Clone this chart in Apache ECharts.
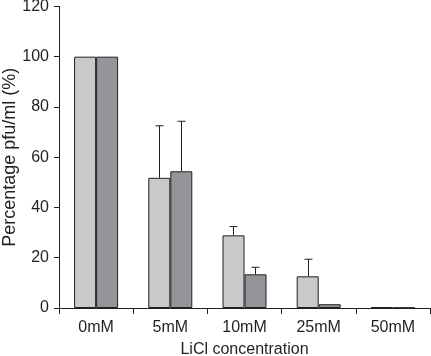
<!DOCTYPE html>
<html>
<head>
<meta charset="utf-8">
<script src="https://cdn.jsdelivr.net/npm/echarts@6/dist/echarts.min.js"></script>
<style>
  html, body { margin: 0; padding: 0; background: #fff; }
  #main { width: 431px; height: 356px; }
</style>
</head>
<body>
<div id="main"></div>
<script>
// LiCl concentrations on the x axis
const categories = ['0mM', '5mM', '10mM', '25mM', '50mM'];
// light grey bars and their upper error
const lightValues = [100, 51.8, 28.9, 12.6, 0.4];
const lightErrors = [0, 20.7, 3.5, 6.8, 0];
// dark grey bars and their upper error
const darkValues = [100, 54.4, 13.4, 1.5, 0.1];
const darkErrors = [0, 19.9, 2.8, 0, 0];
const yTicks = [0, 20, 40, 60, 80, 100, 120];

const ink = '#231f20';
const font = '"Liberation Sans", Arial, sans-serif';
const barW = 22;

// error bar: vertical line up from the top of the bar plus a small cap
function errorBar(side) {
    return function (params, api) {
        const err = api.value(2);
        if (!err) return null;
        const top = api.coord([api.value(0), api.value(1) + err]);
        const base = api.coord([api.value(0), api.value(1)]);
        const x = Math.round(base[0] + side * barW / 2) + 0.5;
        return {
            type: 'group',
            children: [
                { type: 'line', shape: { x1: x, y1: base[1], x2: x, y2: top[1] }, style: { stroke: ink, lineWidth: 1 } },
                { type: 'line', shape: { x1: x - 4, y1: top[1], x2: x + 4, y2: top[1] }, style: { stroke: ink, lineWidth: 1 } }
            ]
        };
    };
}

let myChart = echarts.init(document.getElementById('main'));
let option = {
    animation: false,
    textStyle: { fontFamily: font, color: ink },
    grid: { left: 59, right: 1, top: 6.4, bottom: 48, containLabel: false, outerBoundsMode: 'none' },
    xAxis: {
        type: 'category',
        data: categories,
        name: 'LiCl concentration',
        nameLocation: 'middle',
        nameGap: 34,
        nameMoveOverlap: false,
        nameTextStyle: { fontSize: 16, color: ink, fontFamily: font },
        axisLine: { lineStyle: { color: ink, width: 1 } },
        axisTick: { show: true, length: 6, lineStyle: { color: ink } },
        axisLabel: { fontSize: 16, color: ink, margin: 12, fontFamily: font }
    },
    yAxis: {
        type: 'value',
        min: 0,
        max: 120,
        interval: 20,
        name: 'Percentage pfu/ml (%)',
        nameLocation: 'middle',
        nameGap: 40,
        nameMoveOverlap: false,
        nameTextStyle: { fontSize: 18, color: ink, fontFamily: font },
        axisLine: { show: true, lineStyle: { color: ink, width: 1 } },
        axisTick: { show: true, length: 5, lineStyle: { color: ink } },
        axisLabel: {
            fontSize: 16, color: ink, margin: 10, fontFamily: font,
            formatter: v => (yTicks.indexOf(v) > -1 ? String(v) : '')
        },
        splitLine: { show: false }
    },
    series: [
        {
            type: 'bar',
            data: lightValues,
            barWidth: barW,
            barGap: '0%',
            itemStyle: { color: '#c8c9cb', borderColor: ink, borderWidth: 1 }
        },
        {
            type: 'bar',
            data: darkValues,
            barWidth: barW,
            barGap: '0%',
            itemStyle: { color: '#939598', borderColor: ink, borderWidth: 1 }
        },
        {
            type: 'custom',
            renderItem: errorBar(-1),
            data: categories.map((c, i) => [i, lightValues[i], lightErrors[i]]),
            z: 3
        },
        {
            type: 'custom',
            renderItem: errorBar(1),
            data: categories.map((c, i) => [i, darkValues[i], darkErrors[i]]),
            z: 3
        }
    ]
};
myChart.setOption(option);
</script>
</body>
</html>
